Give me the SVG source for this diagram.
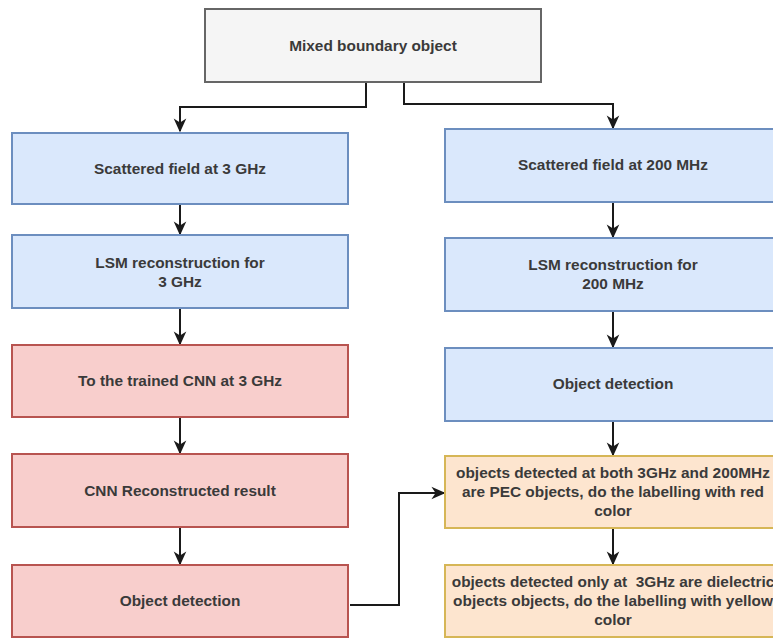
<svg xmlns="http://www.w3.org/2000/svg" width="773" height="639" viewBox="0 0 773 639">
<defs>
<style>
.g{fill:#f5f5f5;stroke:#666666;stroke-width:2}
.b{fill:#dae8fc;stroke:#6c8ebf;stroke-width:2}
.r{fill:#f8cecc;stroke:#b85450;stroke-width:2}
.y{fill:#fde5cf;stroke:#d6b656;stroke-width:2}
text{font-family:"Liberation Sans",Arial,sans-serif;font-size:15.4px;font-weight:bold;fill:#3a3a3a;text-anchor:middle}
.e{fill:none;stroke:#1a1a1a;stroke-width:2}
</style>
<marker id="a" viewBox="0 0 10 10" refX="9" refY="5" markerWidth="14" markerHeight="14" orient="auto" markerUnits="userSpaceOnUse">
<path d="M0,0.5 L10,5 L0,9.5 L3,5 Z" fill="#1a1a1a"/>
</marker>
</defs>
<g id="connectors">
<path class="e" d="M366,82 V107 H180 V131" marker-end="url(#a)"/>
<path class="e" d="M404,82 V104 H613 V128" marker-end="url(#a)"/>
<path class="e" d="M180,204 V234" marker-end="url(#a)"/>
<path class="e" d="M180,308 V344" marker-end="url(#a)"/>
<path class="e" d="M180,417 V453" marker-end="url(#a)"/>
<path class="e" d="M180,527 V564" marker-end="url(#a)"/>
<path class="e" d="M613,202 V237" marker-end="url(#a)"/>
<path class="e" d="M613,311 V347" marker-end="url(#a)"/>
<path class="e" d="M613,421 V455" marker-end="url(#a)"/>
<path class="e" d="M613,528 V564" marker-end="url(#a)"/>
<path class="e" d="M350,605 H399 V493 H444" marker-end="url(#a)"/>
</g>
<g id="n-mixed"><rect class="g" x="205" y="9" width="336" height="73"/><text x="373" y="51">Mixed boundary object</text></g>
<g id="n-sf3"><rect class="b" x="12" y="133" width="336" height="71"/><text x="180" y="174">Scattered field at 3 GHz</text></g>
<g id="n-lsm3"><rect class="b" x="12" y="235" width="336" height="73"/><text x="180" y="268">LSM reconstruction for</text><text x="180" y="287">3 GHz</text></g>
<g id="n-cnn"><rect class="r" x="12" y="345" width="336" height="72"/><text x="180" y="386">To the trained CNN at 3 GHz</text></g>
<g id="n-cnnres"><rect class="r" x="12" y="454" width="336" height="73"/><text x="180" y="496">CNN Reconstructed result</text></g>
<g id="n-od3"><rect class="r" x="12" y="565" width="336" height="72"/><text x="180" y="606">Object detection</text></g>
<g id="n-sf200"><rect class="b" x="445" y="129" width="336" height="73"/><text x="613" y="170">Scattered field at 200 MHz</text></g>
<g id="n-lsm200"><rect class="b" x="445" y="238" width="336" height="73"/><text x="613" y="270">LSM reconstruction for</text><text x="613" y="289">200 MHz</text></g>
<g id="n-od200"><rect class="b" x="445" y="348" width="336" height="73"/><text x="613" y="389">Object detection</text></g>
<g id="n-pec"><rect class="y" x="445" y="456" width="336" height="72"/><text x="613" y="478">objects detected at both 3GHz and 200MHz</text><text x="613" y="497">are PEC objects, do the labelling with red</text><text x="613" y="516">color</text></g>
<g id="n-die"><rect class="y" x="445" y="565" width="336" height="72"/><text x="613" y="587" xml:space="preserve">objects detected only at  3GHz are dielectric</text><text x="613" y="606">objects objects, do the labelling with yellow</text><text x="613" y="625">color</text></g>
</svg>
